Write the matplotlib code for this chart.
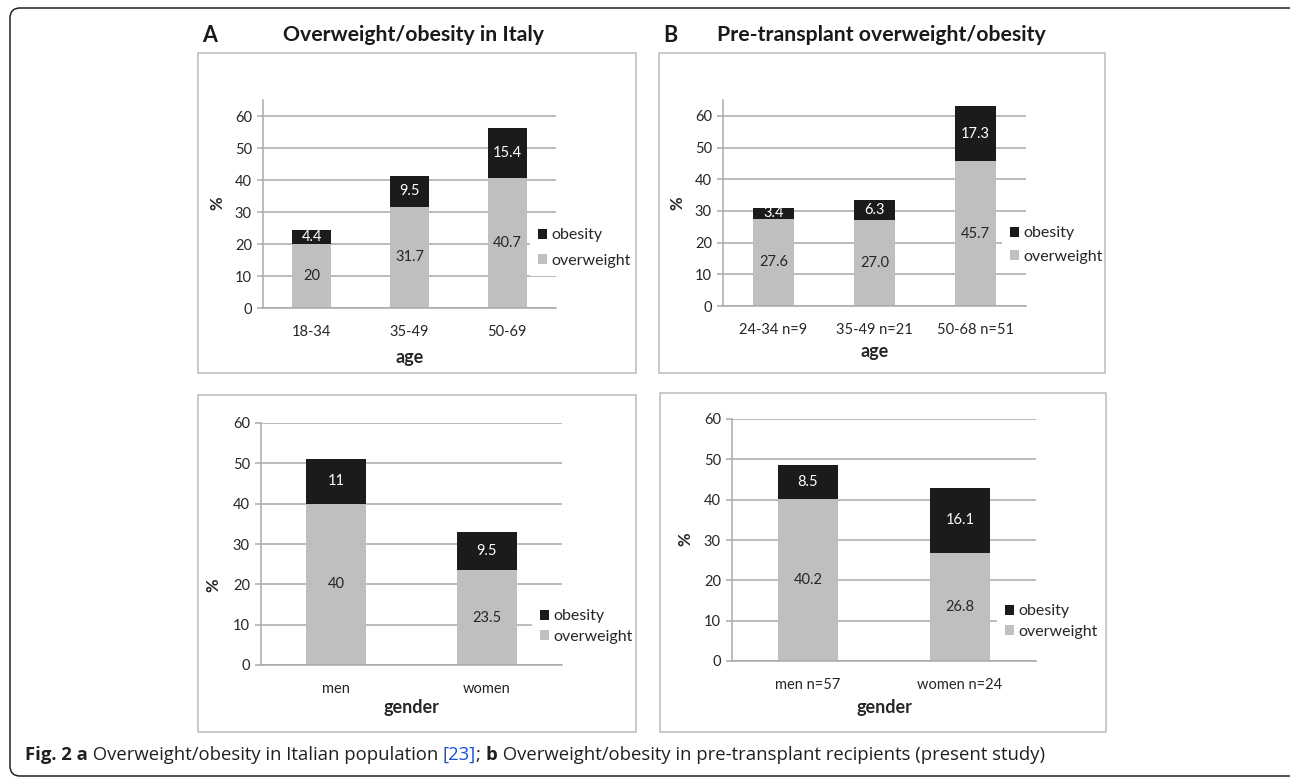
import matplotlib
matplotlib.use("Agg")
import matplotlib.pyplot as plt
from matplotlib.patches import Rectangle, FancyBboxPatch
import numpy as np

W, H = 1290, 778
DPI = 100

# overweight / obesity prevalence (%) by group
age_italy = ["18-34", "35-49", "50-69"]
overweight_italy_age = [20, 31.7, 40.7]
obesity_italy_age = [4.4, 9.5, 15.4]

age_tx = ["24-34 n=9", "35-49 n=21", "50-68 n=51"]
overweight_tx_age = [27.6, 27.0, 45.7]
obesity_tx_age = [3.4, 6.3, 17.3]

gender_italy = ["men", "women"]
overweight_italy_gender = [40, 23.5]
obesity_italy_gender = [11, 9.5]

gender_tx = ["men n=57", "women n=24"]
overweight_tx_gender = [40.2, 26.8]
obesity_tx_gender = [8.5, 16.1]

GREY = "#bfbfbf"
BLACK = "#1b1b1b"
GRID = "#a9a9a9"
TXT = "#262626"
BOX = "#c0c0c0"

plt.rcParams["font.family"] = ["Lato", "DejaVu Sans"]

fig = plt.figure(figsize=(W / DPI, H / DPI), dpi=DPI)
inch = fig.dpi_scale_trans


def ix(x):
    return x / DPI


def iy(y):
    return (H - y) / DPI


def frac_rect(x0, y0, x1, y1):
    return [x0 / W, 1 - y1 / H, (x1 - x0) / W, (y1 - y0) / H]


def stacked(rect, cats, over, obese, fmt, ymax, xlabel, xlab_y, ylab_xy, leg_xy, spacing):
    ax = fig.add_axes(frac_rect(*rect))
    x = np.arange(len(cats))
    b_over = ax.bar(x, over, 0.4, color=GREY, label="overweight", zorder=2)
    b_obese = ax.bar(x, obese, 0.4, bottom=over, color=BLACK, label="obesity", zorder=2)
    ax.bar_label(b_over, fmt=fmt, label_type="center", color=TXT, fontsize=10.5)
    ax.bar_label(b_obese, fmt=fmt, label_type="center", color="white", fontsize=10.5)

    ax.set_xlim(-0.5, len(cats) - 0.5)
    ax.set_ylim(0, ymax)
    ax.set_yticks(range(0, 61, 10))
    ax.set_xticks(x)
    ax.set_xticklabels(cats)
    ax.yaxis.grid(True, color=GRID, lw=1.1)
    ax.set_axisbelow(True)
    for s in ["top", "right"]:
        ax.spines[s].set_visible(False)
    for s in ["left", "bottom"]:
        ax.spines[s].set_color(GRID)
        ax.spines[s].set_linewidth(1.1)
    ax.tick_params(axis="y", length=4, width=1.1, color=GRID, labelsize=10.5,
                   labelcolor=TXT, pad=4)
    ax.tick_params(axis="x", length=0, labelsize=10.5, labelcolor=TXT, pad=12)

    fig.text(ix((rect[0] + rect[2]) / 2), iy(xlab_y), xlabel, transform=inch,
             ha="center", va="center", fontsize=13, fontweight="bold", color=TXT)
    fig.text(ix(ylab_xy[0]), iy(ylab_xy[1]), "%", transform=inch, rotation=90,
             ha="center", va="center", fontsize=12, fontweight="bold", color=TXT)

    h, l = ax.get_legend_handles_labels()
    leg = ax.legend(h[::-1], l[::-1], loc="center left",
                    bbox_to_anchor=(ix(leg_xy[0]), iy(leg_xy[1])), bbox_transform=inch,
                    frameon=True, fancybox=False, framealpha=1, facecolor="white",
                    edgecolor="none", borderpad=0.5, borderaxespad=0,
                    handlelength=0.56, handleheight=0.56, handletextpad=0.3,
                    labelspacing=spacing, fontsize=11.5)
    for t in leg.get_texts():
        t.set_color(TXT)
    return ax


# outer frame and panel boxes
fig.patches.append(FancyBboxPatch((ix(10), iy(776)), ix(1300) - ix(10), iy(8) - iy(776),
                                  boxstyle="round,pad=0,rounding_size=0.1",
                                  transform=inch, fill=False, ec="#222222", lw=1.1))
for x0, y0, x1, y1 in [(198, 53, 636, 373), (659, 53, 1105, 373),
                       (198, 395, 636, 732), (660, 393, 1106, 732)]:
    fig.patches.append(Rectangle((ix(x0), iy(y1)), ix(x1) - ix(x0), iy(y0) - iy(y1),
                                 transform=inch, fill=False, ec=BOX, lw=1.2))

stacked((263, 100, 556, 308), age_italy, overweight_italy_age, obesity_italy_age,
        "{:g}", 65, "age", 358, (217, 203), (530, 248), 0.7)
stacked((723, 100, 1026, 306), age_tx, overweight_tx_age, obesity_tx_age,
        "{:.1f}", 65, "age", 352, (677, 203), (1002, 245), 0.57)
stacked((261, 423, 562, 665), gender_italy, overweight_italy_gender, obesity_italy_gender,
        "{:g}", 60, "gender", 707, (213, 585), (532, 626.5), 0.38)
stacked((732, 419, 1036, 661), gender_tx, overweight_tx_gender, obesity_tx_gender,
        "{:.1f}", 60, "gender", 707, (685, 539), (997, 621.5), 0.38)

# panel titles
fig.text(ix(202), iy(35), "A", transform=inch, fontsize=15.5, fontweight="bold",
         va="center", ha="left", color="#1a1a1a")
fig.text(ix(413.5), iy(35), "Overweight/obesity in Italy", transform=inch, fontsize=15.3,
         fontweight="bold", va="center", ha="center", color="#1a1a1a")
fig.text(ix(663), iy(35), "B", transform=inch, fontsize=15.5, fontweight="bold",
         va="center", ha="left", color="#1a1a1a")
fig.text(ix(881.5), iy(35), "Pre-transplant overweight/obesity", transform=inch,
         fontsize=15.3, fontweight="bold", va="center", ha="center", color="#1a1a1a")

# caption, built piece by piece
caption = [("Fig. 2 a", "bold", "#231f20"),
           (" Overweight/obesity in Italian population ", "normal", "#231f20"),
           ("[23]", "normal", "#1a4fd6"),
           ("; ", "normal", "#231f20"),
           ("b", "bold", "#231f20"),
           (" Overweight/obesity in pre-transplant recipients (present study)", "normal", "#231f20")]
fig.canvas.draw()
renderer = fig.canvas.get_renderer()
cx = 25
for s, weight, color in caption:
    t = fig.text(ix(cx), iy(760), s, transform=inch, fontsize=13.3, fontweight=weight,
                 family=["Open Sans", "DejaVu Sans"], color=color, va="baseline", ha="left")
    cx += t.get_window_extent(renderer).width

fig.savefig("out.png", dpi=DPI)
